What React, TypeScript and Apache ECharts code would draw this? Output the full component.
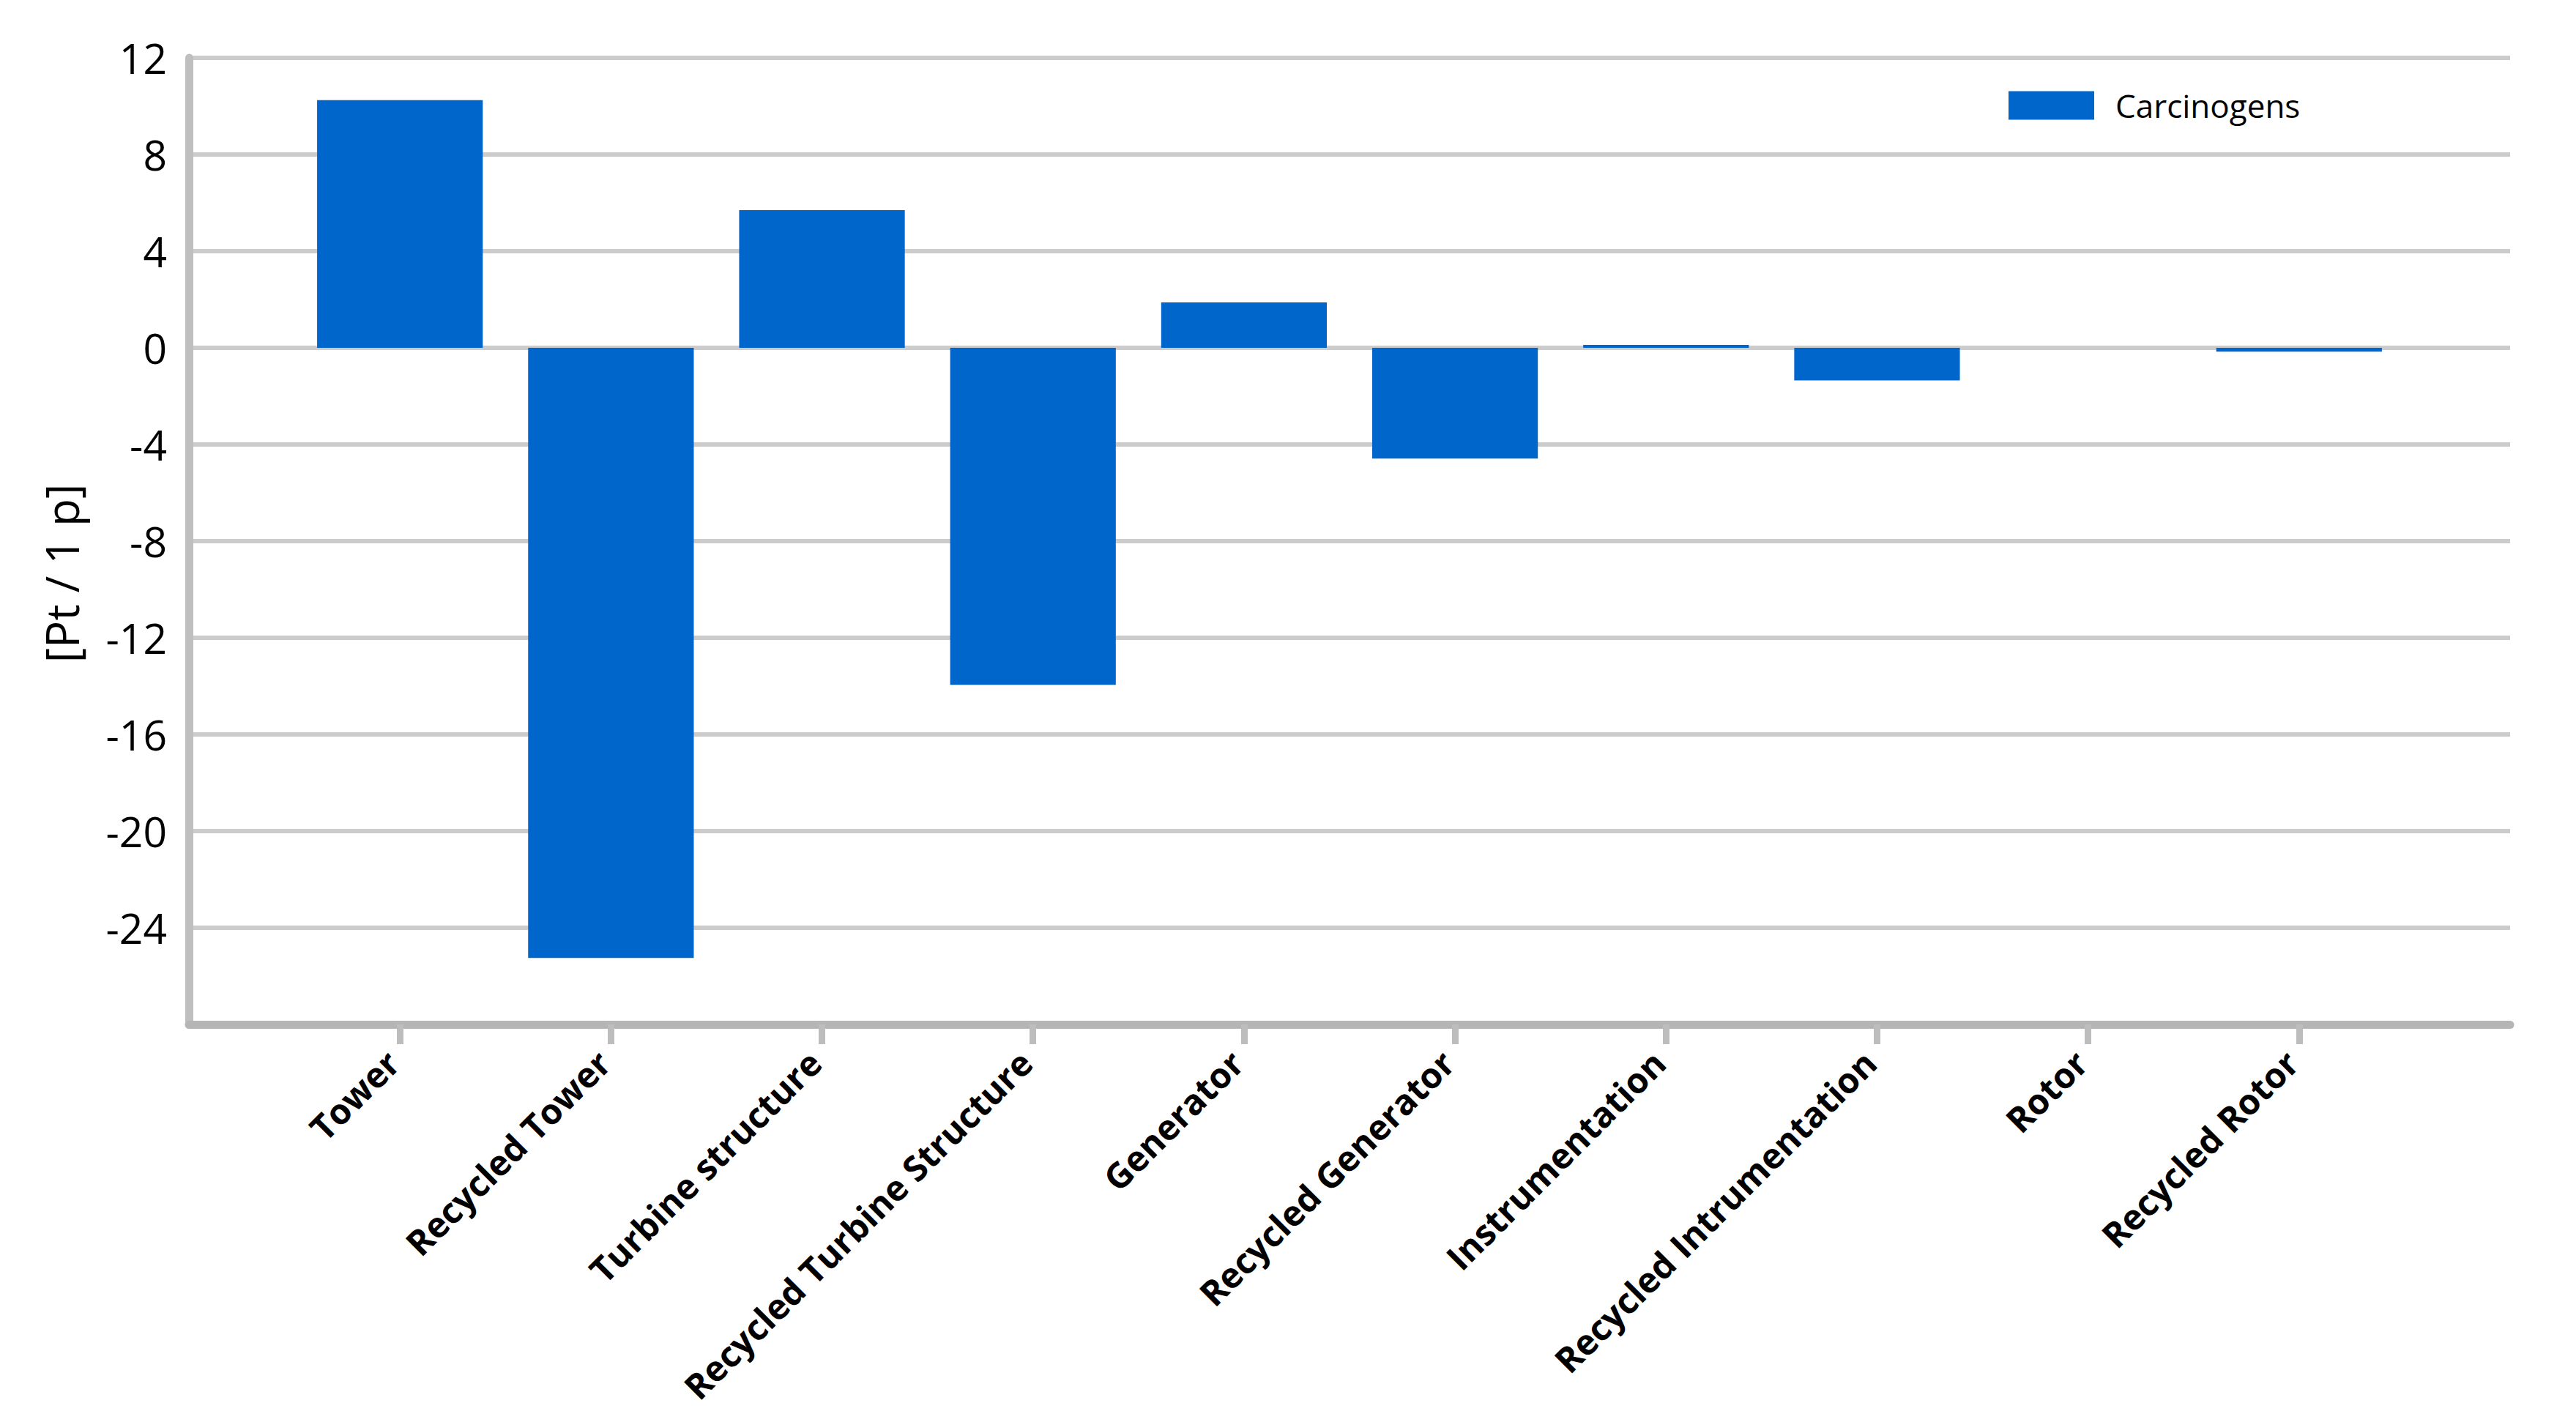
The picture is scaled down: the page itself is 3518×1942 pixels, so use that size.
import React, { useEffect, useRef } from "react";
import * as echarts from "echarts";

const categories = [
  "Tower",
  "Recycled Tower",
  "Turbine structure",
  "Recycled Turbine Structure",
  "Generator",
  "Recycled Generator",
  "Instrumentation",
  "Recycled Intrumentation",
  "Rotor",
  "Recycled Rotor",
];
const carcinogens = [10.25, -25.25, 5.7, -13.95, 1.88, -4.58, 0.12, -1.35, 0.0, -0.16];
const seriesName = "Carcinogens";
const yMin = -28;
const yMax = 12;
const yInterval = 4;
const yAxisTitle = "[Pt / 1 p]";

export default function App() {
  const ref = useRef<HTMLDivElement>(null);
  useEffect(() => {
    document.body.style.margin = "0";
    document.body.style.overflow = "hidden";
    const chart = echarts.init(ref.current!, null, { renderer: "svg" });
    const cats = ["", ...categories, ""];
    const vals = [null, ...carcinogens, null];
    const last = cats.length - 1;
    chart.setOption({
      animation: false,
      backgroundColor: "#ffffff",
      textStyle: { fontFamily: "Open Sans" },
      grid: { left: 258, right: 90, top: 79, bottom: 543, containLabel: false },
      legend: {
        data: [seriesName],
        left: 2743,
        top: 122,
        padding: 0,
        itemWidth: 117,
        itemHeight: 39,
        icon: "rect",
        textStyle: { fontSize: 44, color: "#000", fontFamily: "Open Sans", padding: [0, 0, 0, 24] },
      },
      xAxis: {
        type: "category",
        data: cats,
        boundaryGap: false,
        axisLine: { onZero: false, lineStyle: { color: "#b5b5b5", width: 11 } },
        axisTick: {
          show: true,
          length: 27,
          interval: (index: number) => index > 0 && index < last,
          lineStyle: { color: "#bdbdbd", width: 9 },
        },
        axisLabel: {
          interval: 0,
          rotate: 45,
          margin: 34,
          fontSize: 48,
          fontWeight: "bold",
          fontFamily: "Open Sans",
          color: "#000",
          padding: [0, 14, 0, 0],
        },
        splitLine: { show: false },
      },
      yAxis: {
        type: "value",
        min: yMin,
        max: yMax,
        interval: yInterval,
        axisLine: { show: true, lineStyle: { color: "#bfbfbf", width: 11 } },
        axisTick: { show: false },
        axisLabel: {
          margin: 30,
          fontSize: 57,
          fontFamily: "Open Sans",
          color: "#000",
          formatter: (v: number) => (v === yMin ? "" : String(v)),
        },
        splitLine: { show: true, lineStyle: { color: "#cccccc", width: 6 } },
      },
      graphic: [
        {
          type: "text",
          x: 84,
          y: 783,
          rotation: Math.PI / 2,
          style: {
            text: yAxisTitle,
            fontSize: 62,
            fontFamily: "Open Sans",
            fill: "#000",
            align: "center",
            verticalAlign: "middle",
          },
        },
      ],
      series: [
        {
          name: seriesName,
          type: "bar",
          data: vals,
          barWidth: "78.5%",
          itemStyle: { color: "#0066cc" },
        },
      ],
    });
    return () => chart.dispose();
  }, []);
  return <div ref={ref} style={{ width: 3518, height: 1942 }} />;
}
